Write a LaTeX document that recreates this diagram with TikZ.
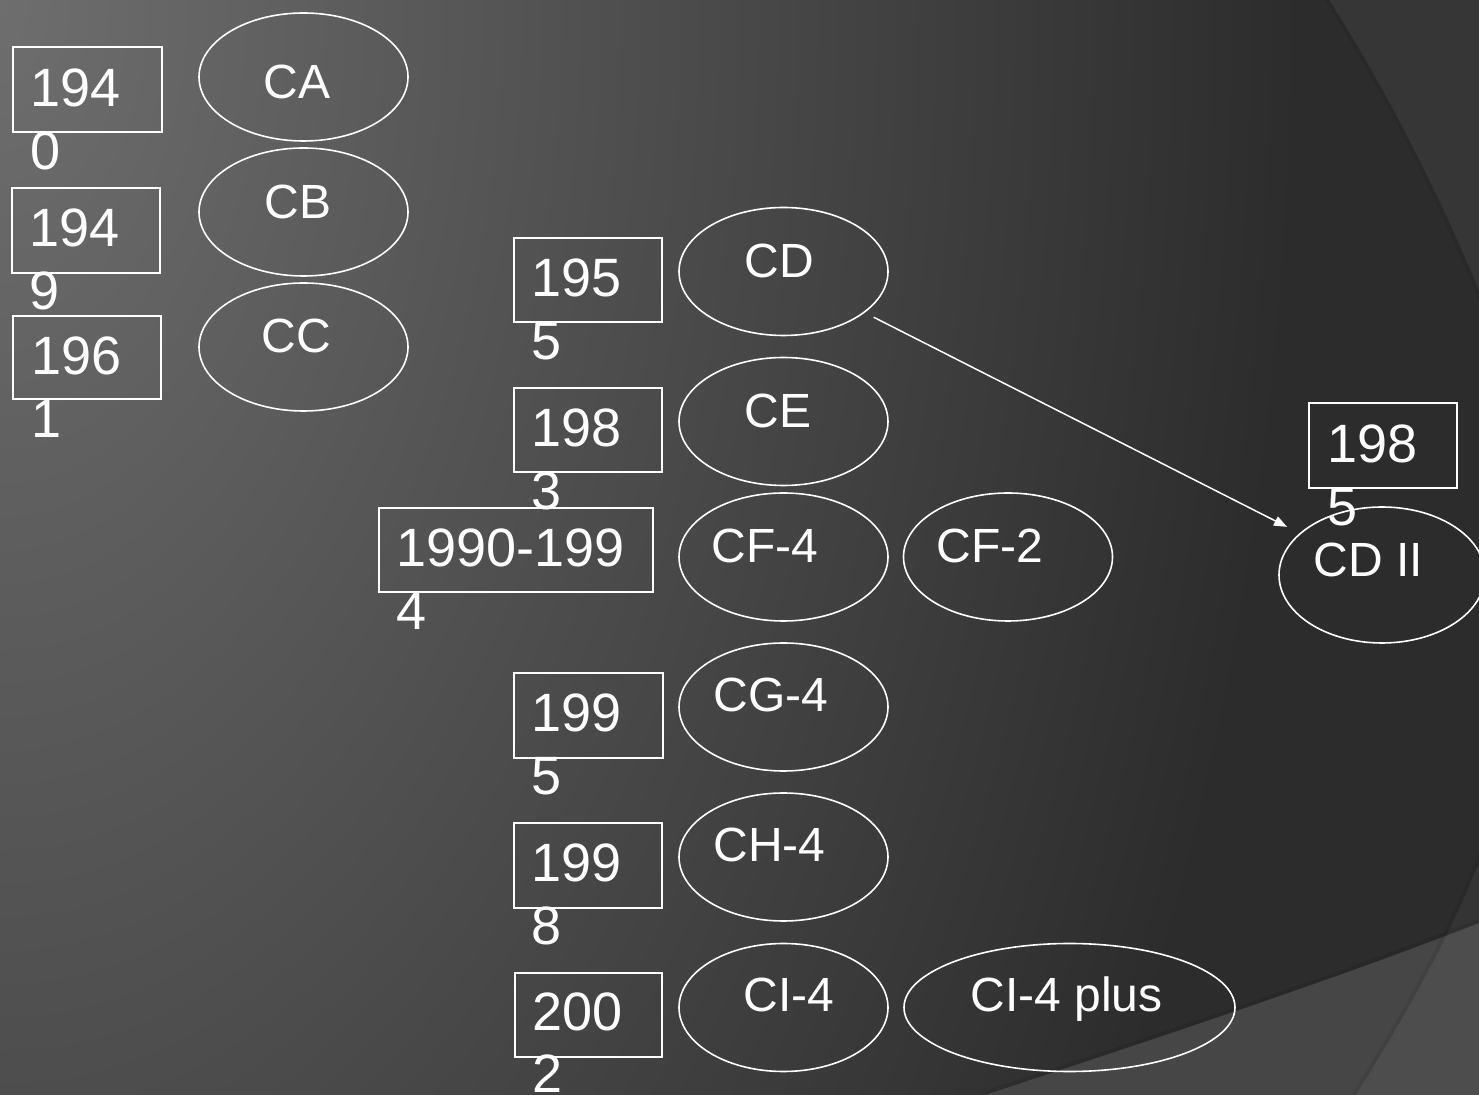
\documentclass[tikz,border=0pt]{standalone}
\usepackage{fontspec}
\setmainfont{Liberation Sans}
\usetikzlibrary{arrows.meta,shapes.geometric}
\definecolor{bgA}{HTML}{6E6E6E}
\definecolor{bgB}{HTML}{2C2C2C}
\definecolor{wedgecol}{HTML}{464646}
\newcommand\yrtext[2]{\vtop{\baselineskip=31.25pt\hbox{#1}\hbox{#2}}}
\begin{document}
\begin{tikzpicture}[x=0.5pt,y=-0.5pt,
  yearbox/.style={draw=white, line width=1pt, rectangle, inner sep=0pt},
  yeartext/.style={text=white, anchor=base west, inner sep=0pt, font=\fontsize{27}{31.25}\selectfont},
  carbox/.style={draw=white, line width=0.8pt, ellipse, inner sep=0pt, minimum width=104.5pt, minimum height=64pt},
  cartext/.style={text=white, anchor=base west, inner sep=0pt, font=\fontsize{24}{28}\selectfont},
  link/.style={draw=white, line width=0.75pt, -{Triangle[length=6.5pt,width=5pt]}, shorten <=5pt, shorten >=7pt}]
\useasboundingbox (0,0) rectangle (1479,1095);
\begin{scope}
  \clip (0,0) rectangle (1479,1095);
  \fill[bgB] (0,0) rectangle (1479,1095);
  \shade[inner color=bgA, outer color=bgB] (0,0) ellipse [x radius=650pt, y radius=1100pt];
  % top-right arc
  \fill[white, opacity=0.05] (1329,0) .. controls (1390,95) and (1450,215) .. (1495,330) -- (1495,0) -- cycle;
  \draw[black, opacity=0.06, line width=2pt, xshift=-1pt] (1329,0) .. controls (1390,95) and (1450,215) .. (1495,330);
  % bottom-right wedge
  \fill[wedgecol] (985,1095) .. controls (1150,1040) and (1320,985) .. (1479,923) -- (1495,917) -- (1495,1100) -- (980,1100) -- cycle;
  \draw[black, opacity=0.08, line width=2pt, yshift=1pt] (985,1095) .. controls (1150,1040) and (1320,985) .. (1479,923) -- (1495,917);
  % bottom-right arc
  \fill[white, opacity=0.04] (1495,820) .. controls (1460,920) and (1410,1010) .. (1340,1120) -- (1495,1120) -- cycle;
  \draw[black, opacity=0.06, line width=2pt, xshift=-1pt] (1495,820) .. controls (1460,920) and (1410,1010) .. (1340,1120);
\end{scope}

% left column
\node[yearbox, minimum width=74.5pt, minimum height=42.5pt] (b1940) at (87.5,89.5) {};
\node[yeartext] (t1940) at (30,107) {\yrtext{194}{0}};
\node[yearbox, minimum width=74pt, minimum height=42.5pt] (b1949) at (86,230.5) {};
\node[yeartext] (t1949) at (29,247) {\yrtext{194}{9}};
\node[yearbox, minimum width=74pt, minimum height=41.5pt] (b1961) at (87,357.5) {};
\node[yeartext] (t1961) at (31,375) {\yrtext{196}{1}};

\node[carbox] (CA) at (303.5,77) {};
\node[cartext] (tCA) at (263,99) {CA};
\node[carbox] (CB) at (303.5,212) {};
\node[cartext] (tCB) at (264,219) {CB};
\node[carbox] (CC) at (303.5,347) {};
\node[cartext] (tCC) at (261,353) {CC};

% middle column
\node[yearbox, minimum width=74pt, minimum height=42pt] (b1955) at (588,280) {};
\node[yeartext] (t1955) at (531,297) {\yrtext{195}{5}};
\node[yearbox, minimum width=74pt, minimum height=42pt] (b1983) at (588,430) {};
\node[yeartext] (t1983) at (531,447) {\yrtext{198}{3}};
\node[yearbox, minimum width=137pt, minimum height=42pt] (b1990) at (516,550) {};
\node[yeartext] (t1990) at (396,567) {\yrtext{1990-199}{4}};
\node[yearbox, minimum width=74.5pt, minimum height=42.5pt] (b1995) at (588.5,715.5) {};
\node[yeartext] (t1995) at (531,732) {\yrtext{199}{5}};
\node[yearbox, minimum width=74pt, minimum height=42.5pt] (b1998) at (588,865.5) {};
\node[yeartext] (t1998) at (531,882) {\yrtext{199}{8}};
\node[yearbox, minimum width=73.5pt, minimum height=42pt] (b2002) at (588.5,1015) {};
\node[yeartext] (t2002) at (532,1030) {\yrtext{200}{2}};

\node[carbox] (CD) at (783.5,271.5) {};
\node[cartext] (tCD) at (744,278) {CD};
\node[carbox] (CE) at (783.5,421.5) {};
\node[cartext] (tCE) at (744,428) {CE};
\node[carbox] (CF4) at (783.5,557) {};
\node[cartext] (tCF4) at (711,563) {CF-4};
\node[carbox] (CF2) at (1008,557) {};
\node[cartext] (tCF2) at (936,563) {CF-2};
\node[carbox] (CG4) at (783.5,707) {};
\node[cartext] (tCG4) at (713,712) {CG-4};
\node[carbox] (CH4) at (783.5,857) {};
\node[cartext] (tCH4) at (713,862) {CH-4};
\node[carbox] (CI4) at (783.5,1007.5) {};
\node[cartext] (tCI4) at (743,1012) {CI-4};
\node[carbox, minimum width=165.5pt] (CI4p) at (1069.5,1007.5) {};
\node[cartext] (tCI4p) at (970,1012) {CI-4 plus};

% right
\node[yearbox, minimum width=74pt, minimum height=42.5pt] (b1985) at (1383,445.5) {};
\node[yeartext] (t1985) at (1327,463) {\yrtext{198}{5}};
\node[carbox, minimum width=103pt, minimum height=68pt] (CDII) at (1382,575) {};
\node[cartext] (tCDII) at (1313,577) {CD II};

\draw[link] (CD) -- (CDII);
\end{tikzpicture}
\end{document}
